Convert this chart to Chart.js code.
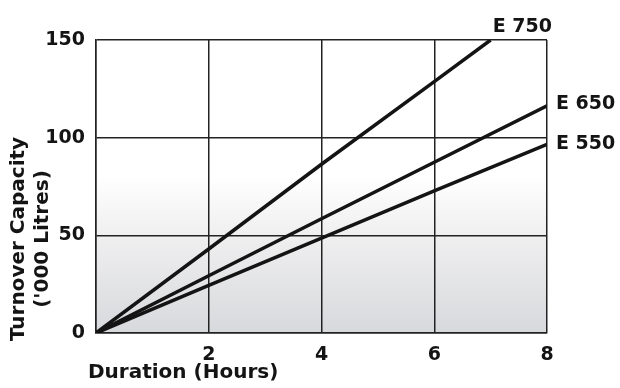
<!DOCTYPE html>
<html>
<head>
<meta charset="utf-8">
<style>
  html, body { margin: 0; padding: 0; background: #fff; }
  #wrap { width: 620px; height: 388px; }
</style>
<script src="https://cdn.jsdelivr.net/npm/chart.js@4/dist/chart.umd.min.js"></script>
</head>
<body>
<div id="wrap"><canvas id="turnoverChart" width="620" height="388"></canvas></div>
<script>
// values
const hours = [0, 2, 4, 6, 8];
const e550 = [0, 24.4, 48.6, 72.8, 96.6];
const e650 = [0, 29.3, 58.5, 87.4, 116.3];
const e750Hours = [0, 2, 4, 6, 7];   // E 750 runs off the top at about 7 h
const e750 = [0, 43, 86.4, 128.7, 150];
const seriesNames = ['E 750', 'E 650', 'E 550'];
const yTicks = [0, 50, 100, 150];
const xTicks = [2, 4, 6, 8];

const FONT = 'DejaVu Sans';
const INK = '#141414';

const toPoints = (xs, ys) => xs.map((x, i) => ({ x: x, y: ys[i] }));

// grey fade in the lower half of the plot
const plotBackground = {
    id: 'plotBackground',
    beforeDraw(chart) {
        const { ctx, chartArea: a } = chart;
        const g = ctx.createLinearGradient(0, a.top, 0, a.bottom);
        g.addColorStop(0, '#ffffff');
        g.addColorStop(0.46, '#ffffff');
        g.addColorStop(0.67, '#efeff0');
        g.addColorStop(1, '#d8d9dc');
        ctx.save();
        ctx.fillStyle = g;
        ctx.fillRect(a.left, a.top, a.right - a.left, a.bottom - a.top);
        ctx.restore();
    }
};

// series names next to the line ends, axis titles
const labelsAndTitles = {
    id: 'labelsAndTitles',
    afterDatasetsDraw(chart) {
        const { ctx } = chart;
        ctx.save();
        ctx.fillStyle = INK;
        ctx.font = 'bold 19px "' + FONT + '"';
        ctx.textAlign = 'left';
        chart.data.datasets.forEach((ds, i) => {
            const pts = chart.getDatasetMeta(i).data;
            const p = pts[pts.length - 1];
            if (i === 0) {
                ctx.textBaseline = 'alphabetic';
                ctx.fillText(seriesNames[i], p.x + 2, p.y - 8);
            } else {
                ctx.textBaseline = 'middle';
                ctx.fillText(seriesNames[i], p.x + 9, p.y - (i === 1 ? 2 : 0));
            }
        });

        ctx.font = 'bold 20px "' + FONT + '"';
        ctx.textBaseline = 'middle';
        ctx.fillText('Duration (Hours)', 88, 373);

        ctx.translate(0, 239);
        ctx.rotate(-Math.PI / 2);
        ctx.textAlign = 'center';
        ctx.fillText('Turnover Capacity', 0, 19);
        ctx.fillText("('000 Litres)", 0, 43);
        ctx.restore();
    }
};

const lineStyle = {
    borderColor: INK,
    backgroundColor: INK,
    borderWidth: 3.5,
    pointRadius: 0,
    tension: 0,
    fill: false
};

const ctx = document.getElementById('turnoverChart').getContext('2d');
const turnoverChart = new Chart(ctx, {
    type: 'line',
    data: {
        datasets: [
            Object.assign({ label: seriesNames[0], data: toPoints(e750Hours, e750) }, lineStyle),
            Object.assign({ label: seriesNames[1], data: toPoints(hours, e650) }, lineStyle),
            Object.assign({ label: seriesNames[2], data: toPoints(hours, e550) }, lineStyle)
        ]
    },
    options: {
        responsive: false,
        animation: false,
        devicePixelRatio: 1,
        layout: {
            padding: { left: 0, right: 73, top: 40, bottom: 0 }
        },
        scales: {
            x: {
                type: 'linear',
                min: 0,
                max: 8,
                afterBuildTicks(scale) {
                    scale.ticks = [0].concat(xTicks).map(v => ({ value: v }));
                },
                afterFit(scale) { scale.height = 55; },
                ticks: {
                    callback: v => (v === 0 ? '' : v),
                    color: INK,
                    padding: 11,
                    font: { family: FONT, size: 19, weight: 'bold' }
                },
                grid: { color: '#222222', lineWidth: 1.5, drawTicks: false },
                border: { color: '#222222', width: 1.5 }
            },
            y: {
                min: 0,
                max: 150,
                afterBuildTicks(scale) {
                    scale.ticks = yTicks.map(v => ({ value: v }));
                },
                afterFit(scale) { scale.width = 96; },
                ticks: {
                    color: INK,
                    padding: 11,
                    font: { family: FONT, size: 19, weight: 'bold' }
                },
                grid: { color: '#222222', lineWidth: 1.5, drawTicks: false },
                border: { color: '#222222', width: 1.5 }
            }
        },
        plugins: {
            legend: { display: false },
            tooltip: { enabled: false }
        }
    },
    plugins: [plotBackground, labelsAndTitles]
});
</script>
</body>
</html>
